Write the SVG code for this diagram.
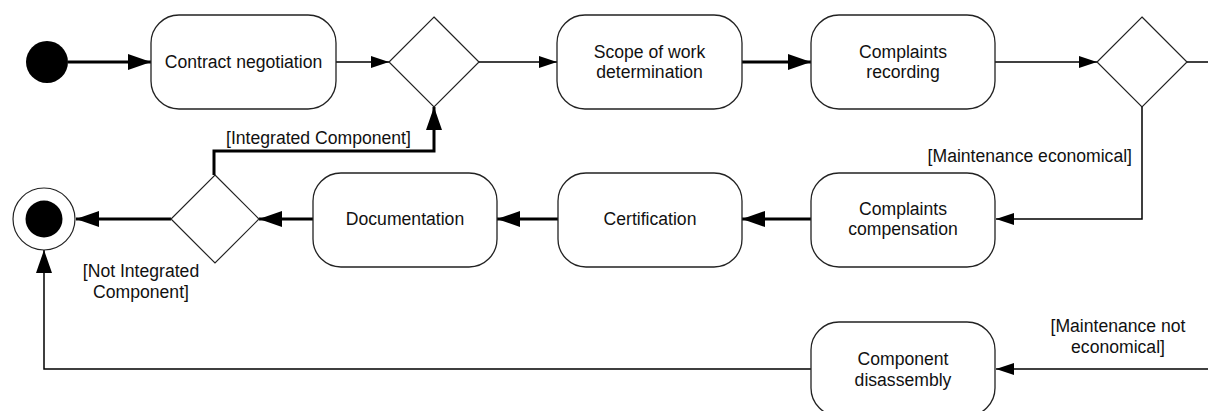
<svg xmlns="http://www.w3.org/2000/svg" width="1208" height="411" viewBox="0 0 1208 411">
  <style>
    .act { fill: #ffffff; stroke: #222222; stroke-width: 1.3; }
    .dec { fill: #ffffff; stroke: #222222; stroke-width: 1.2; }
    .lbl { font-family: "Liberation Sans", Arial, sans-serif; font-size: 17.6px; fill: #111111; }
    .mid { text-anchor: middle; }
    .heavy { fill: none; stroke: #000000; stroke-width: 3; }
    .light { fill: none; stroke: #000000; stroke-width: 1.5; }
  </style>
  <defs>
    <marker id="arrow-lg" markerUnits="userSpaceOnUse" markerWidth="24" markerHeight="18" viewBox="0 0 24 18" refX="23" refY="9" orient="auto">
      <path d="M0,1 L23,9 L0,17 Z" fill="#000000"/>
    </marker>
    <marker id="arrow-sm" markerUnits="userSpaceOnUse" markerWidth="19" markerHeight="14" viewBox="0 0 19 14" refX="18" refY="7" orient="auto">
      <path d="M0,1 L18,7 L0,13 Z" fill="#000000"/>
    </marker>
  </defs>

  <rect width="1208" height="411" fill="#ffffff"/>

  <!-- connectors -->
  <g id="connectors">
    <line class="heavy" x1="68" y1="62" x2="151" y2="62" marker-end="url(#arrow-lg)"/>
    <line class="light" x1="336" y1="62" x2="389" y2="62" marker-end="url(#arrow-sm)"/>
    <line class="light" x1="479" y1="62" x2="557" y2="62" marker-end="url(#arrow-sm)"/>
    <line class="heavy" x1="742" y1="62" x2="811" y2="62" marker-end="url(#arrow-lg)"/>
    <line class="light" x1="995" y1="62" x2="1097" y2="62" marker-end="url(#arrow-sm)"/>
    <line class="light" x1="1187" y1="62" x2="1208" y2="62"/>
    <polyline class="light" points="1142,107 1142,219 996,219" marker-end="url(#arrow-sm)"/>
    <line class="heavy" x1="811" y1="219" x2="742" y2="219" marker-end="url(#arrow-lg)"/>
    <line class="heavy" x1="558" y1="219" x2="497" y2="219" marker-end="url(#arrow-lg)"/>
    <line class="heavy" x1="313" y1="219" x2="259" y2="219" marker-end="url(#arrow-lg)"/>
    <line class="heavy" x1="171" y1="219" x2="76" y2="219" marker-end="url(#arrow-lg)"/>
    <polyline class="heavy" points="214,175 214,151 434,151 434,107" marker-end="url(#arrow-lg)"/>
    <line class="light" x1="1208" y1="369" x2="996" y2="369" marker-end="url(#arrow-sm)"/>
    <polyline class="light" points="811,369 44,369 44,250" marker-end="url(#arrow-lg)"/>

    <text class="lbl" x="226" y="144">[Integrated Component]</text>
    <text class="lbl mid" x="141" y="277">[Not Integrated</text>
    <text class="lbl mid" x="141" y="298">Component]</text>
    <text class="lbl" x="1132" y="162" text-anchor="end">[Maintenance economical]</text>
    <text class="lbl mid" x="1118" y="332">[Maintenance not</text>
    <text class="lbl mid" x="1118" y="353">economical]</text>
  </g>

  <!-- start -->
  <g id="start">
    <circle cx="47" cy="62" r="21" fill="#000000"/>
  </g>

  <g id="contract-negotiation">
    <rect class="act" x="151" y="15" width="185" height="94" rx="28" ry="28"/>
    <text class="lbl mid" x="243.5" y="68">Contract negotiation</text>
  </g>

  <g id="decision-contract">
    <polygon class="dec" points="434,17 479,62 434,107 389,62"/>
  </g>

  <g id="scope-of-work">
    <rect class="act" x="557" y="15" width="185" height="94" rx="28" ry="28"/>
    <text class="lbl mid" x="649.5" y="58">Scope of work</text>
    <text class="lbl mid" x="649.5" y="78">determination</text>
  </g>

  <g id="complaints-recording">
    <rect class="act" x="811" y="15" width="184" height="94" rx="28" ry="28"/>
    <text class="lbl mid" x="903" y="58">Complaints</text>
    <text class="lbl mid" x="903" y="78">recording</text>
  </g>

  <g id="decision-maintenance">
    <polygon class="dec" points="1142,17 1187,62 1142,107 1097,62"/>
  </g>

  <g id="complaints-compensation">
    <rect class="act" x="811" y="173" width="184" height="94" rx="28" ry="28"/>
    <text class="lbl mid" x="903" y="215">Complaints</text>
    <text class="lbl mid" x="903" y="235">compensation</text>
  </g>

  <g id="certification">
    <rect class="act" x="558" y="173" width="184" height="94" rx="28" ry="28"/>
    <text class="lbl mid" x="650" y="225">Certification</text>
  </g>

  <g id="documentation">
    <rect class="act" x="313" y="173" width="184" height="94" rx="28" ry="28"/>
    <text class="lbl mid" x="405" y="225">Documentation</text>
  </g>

  <g id="decision-integration">
    <polygon class="dec" points="215,175 259,219 215,263 171,219"/>
  </g>

  <g id="final">
    <circle cx="44" cy="219" r="31" fill="#ffffff" stroke="#222222" stroke-width="1.2"/>
    <circle cx="44" cy="219" r="18.5" fill="#000000"/>
  </g>

  <g id="component-disassembly">
    <rect class="act" x="811" y="322" width="184" height="94" rx="28" ry="28"/>
    <text class="lbl mid" x="903" y="365">Component</text>
    <text class="lbl mid" x="903" y="386">disassembly</text>
  </g>
</svg>
